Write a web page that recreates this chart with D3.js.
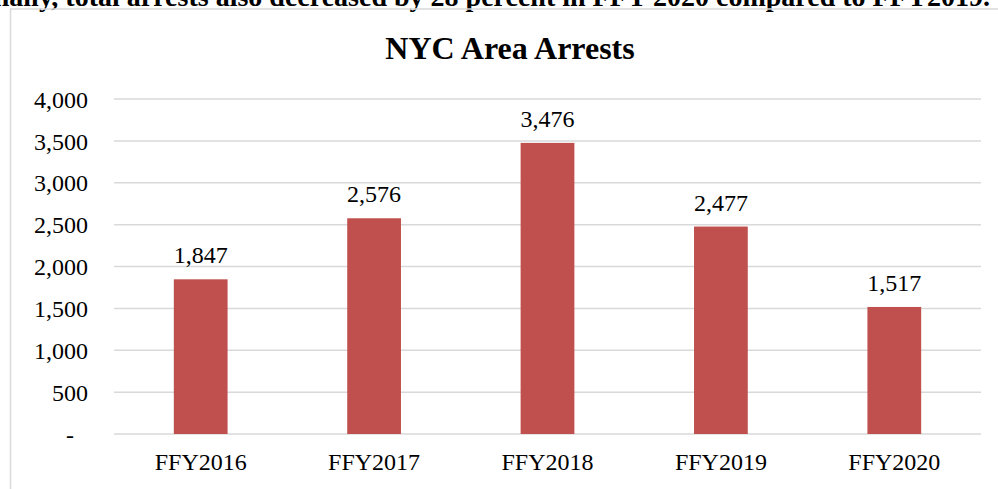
<!DOCTYPE html>
<html>
<head>
<meta charset="utf-8">
<script src="https://cdn.jsdelivr.net/npm/d3@7"></script>
<style>
  html, body { margin: 0; padding: 0; background: #fff; }
  svg { display: block; }
  text { font-family: "Liberation Serif", "Times New Roman", serif; fill: #000; }
</style>
</head>
<body>
<svg id="chart" width="998" height="489"></svg>
<script>
const categories = ["FFY2016", "FFY2017", "FFY2018", "FFY2019", "FFY2020"];
const arrests = [1847, 2576, 3476, 2477, 1517];
const yTicks = [0, 500, 1000, 1500, 2000, 2500, 3000, 3500, 4000];
const yTickLabels = ["-", "500", "1,000", "1,500", "2,000", "2,500", "3,000", "3,500", "4,000"];
const chartTitle = "NYC Area Arrests";
const aboveText = "Additionally, total arrests also decreased by 28 percent in FFY 2020 compared to FFY2019.";

const W = 998, H = 489;
const svg = d3.select("#chart");

// Text from the document above the chart (cropped at the top, as in the reference)
svg.append("text")
  .attr("x", 990).attr("y", 6)
  .attr("text-anchor", "end")
  .style("font-size", "28px").style("font-weight", "bold")
  .text(aboveText);

// Chart border
svg.append("rect")
  .attr("x", 10.5).attr("y", 9)
  .attr("width", 1000).attr("height", 500)
  .attr("fill", "none").attr("stroke", "#d9d9d9").attr("stroke-width", 1.5);

const plot = { left: 114, right: 981, top: 99, bottom: 434 };

const x = d3.scaleBand().domain(categories).range([plot.left, plot.right]).padding(0);
const y = d3.scaleLinear().domain([0, 4000]).range([plot.bottom, plot.top]);
const barW = x.bandwidth() * 0.31;

// Title
svg.append("text")
  .attr("x", 510).attr("y", 59)
  .attr("text-anchor", "middle")
  .style("font-size", "32px").style("font-weight", "bold")
  .text(chartTitle);

// Gridlines
svg.append("g")
  .selectAll("line").data(yTicks).join("line")
  .attr("x1", plot.left).attr("x2", plot.right)
  .attr("y1", d => y(d)).attr("y2", d => y(d))
  .attr("stroke", "#d9d9d9").attr("stroke-width", 1.5);

// Y axis labels
const yAxis = d3.axisLeft(y).tickValues(yTicks)
  .tickFormat((d, i) => yTickLabels[i]).tickSize(0).tickPadding(0);
const yg = svg.append("g").attr("transform", "translate(88,0)").call(yAxis);
yg.select(".domain").remove();
yg.selectAll("text")
  .style("font-size", "24px")
  .style("font-family", "'Liberation Serif', 'Times New Roman', serif")
  .attr("fill", "#000")
  .attr("dy", "0.34em")
  .attr("dx", (d) => d === 0 ? -14 : 0);

// X axis labels
const xAxis = d3.axisBottom(x).tickSize(0).tickPadding(0);
const xg = svg.append("g").attr("transform", `translate(0,${plot.bottom})`).call(xAxis);
xg.select(".domain").remove();
xg.selectAll("text")
  .style("font-size", "24px")
  .style("font-family", "'Liberation Serif', 'Times New Roman', serif")
  .attr("fill", "#000")
  .attr("y", 36).attr("dy", 0);

// Bars
const data = categories.map((c, i) => ({ c, v: arrests[i] }));
svg.append("g").selectAll("rect").data(data).join("rect")
  .attr("x", d => x(d.c) + x.bandwidth() / 2 - barW / 2)
  .attr("width", barW)
  .attr("y", d => y(d.v))
  .attr("height", d => y(0) - y(d.v))
  .attr("fill", "#c0504d");

// Value labels
svg.append("g").selectAll("text").data(data).join("text")
  .attr("x", d => x(d.c) + x.bandwidth() / 2)
  .attr("y", d => y(d.v) - 16)
  .attr("text-anchor", "middle")
  .style("font-size", "24px")
  .text(d => d3.format(",")(d.v));
</script>
</body>
</html>
